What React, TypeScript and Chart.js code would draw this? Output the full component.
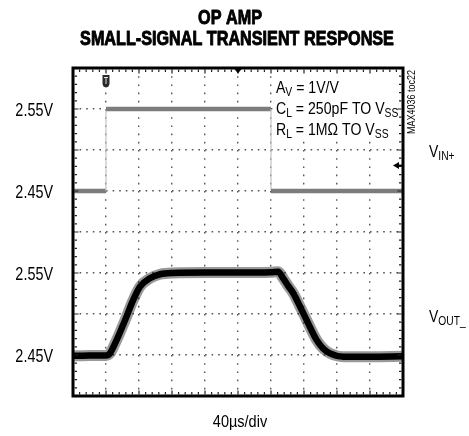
import React, { useEffect, useRef } from 'react';
import { Chart, registerables } from 'chart.js';
Chart.register(...registerables);

// ---- data (time in µs, voltage in V) ----
const xMin = 0;
const xMax = 400;
const xStep = 40; // 40µs/div
const inTime = [0, 40, 40, 240, 240, 400];
const inVolt = [2.45, 2.45, 2.55, 2.55, 2.45, 2.45];
const outTime = [0, 20, 40, 44.8, 50, 54.8, 60, 64.8, 71.2, 81.2, 93.2, 105.6, 121.6, 160, 200, 240, 248.8, 254.8, 261, 267.2, 275.2, 283.2, 295.2, 303.2, 311.6, 327.6, 360, 400];
const outVolt = [2.449, 2.4495, 2.4495, 2.452, 2.462, 2.4725, 2.485, 2.4965, 2.513, 2.5335, 2.5435, 2.5485, 2.55, 2.5505, 2.5505, 2.551, 2.5515, 2.5435, 2.534, 2.525, 2.509, 2.4925, 2.4685, 2.458, 2.452, 2.448, 2.448, 2.4485];
const inRange = [2.2, 2.6];
const outRange = [2.4, 2.8];
const vStep = 0.05; // 50mV/div
const inTickLabels = [2.55, 2.45];
const outTickLabels = [2.55, 2.45];
const triggerTime = 40;
const triggerLevel = 2.481;
const centerTime = 200;
const titleLines = ['OP AMP', 'SMALL-SIGNAL TRANSIENT RESPONSE'];
const xLabel = '40µs/div';
const noteLines = [
  [{ t: 'A' }, { t: 'V', sub: true }, { t: ' = 1V/V' }],
  [{ t: 'C' }, { t: 'L', sub: true }, { t: ' = 250pF TO V' }, { t: 'SS', sub: true }],
  [{ t: 'R' }, { t: 'L', sub: true }, { t: ' = 1MΩ TO V' }, { t: 'SS', sub: true }],
];
const inName = [{ t: 'V' }, { t: 'IN+', sub: true }];
const outName = [{ t: 'V' }, { t: 'OUT_', sub: true }];
const docId = 'MAX4036 toc22';

const FONT = '"Liberation Sans", Arial, sans-serif';

type Run = { t: string; sub?: boolean };

function drawRuns(
  ctx: CanvasRenderingContext2D,
  runs: Run[],
  x: number,
  y: number,
  size: number,
  opt: { bold?: boolean; heavy?: number; align?: 'left' | 'center' | 'right'; sx?: number; subSize?: number; subDy?: number } = {}
) {
  const sx = opt.sx ?? 0.82;
  const subSize = opt.subSize ?? size * 0.72;
  const subDy = opt.subDy ?? size * 0.18;
  const w = opt.bold ? 'bold ' : '';
  const widths = runs.map((r) => {
    ctx.font = `${w}${r.sub ? subSize : size}px ${FONT}`;
    return ctx.measureText(r.t).width * sx;
  });
  const total = widths.reduce((a, b) => a + b, 0);
  let cx = x;
  if (opt.align === 'center') cx = x - total / 2;
  else if (opt.align === 'right') cx = x - total;
  runs.forEach((r, i) => {
    ctx.save();
    ctx.font = `${w}${r.sub ? subSize : size}px ${FONT}`;
    ctx.textAlign = 'left';
    ctx.textBaseline = 'alphabetic';
    ctx.fillStyle = '#000';
    ctx.translate(cx, y + (r.sub ? subDy : 0));
    ctx.scale(sx, 1);
    ctx.fillText(r.t, 0, 0);
    if (opt.heavy) {
      ctx.strokeStyle = '#000';
      ctx.lineWidth = opt.heavy;
      ctx.lineJoin = 'round';
      ctx.strokeText(r.t, 0, 0);
    }
    ctx.restore();
    cx += widths[i];
  });
}

const scopePlugin = {
  id: 'scope',
  beforeDatasetsDraw(chart: any) {
    const { ctx, chartArea: a, scales } = chart;
    const x0 = scales.x.getPixelForValue(242);
    ctx.save();
    ctx.fillStyle = '#fff';
    ctx.fillRect(x0, a.top + 1, a.right - x0 - 1, 71);
    ctx.restore();
  },
  afterDraw(chart: any) {
    const { ctx, chartArea: a, scales } = chart;
    const xs = scales.x;
    const yi = scales.yIn;
    const yo = scales.yOut;
    ctx.save();
    // border
    ctx.strokeStyle = '#000';
    ctx.lineWidth = 3;
    ctx.strokeRect(a.left, a.top, a.right - a.left, a.bottom - a.top);
    // inner minor ticks
    ctx.lineWidth = 1.2;
    ctx.strokeStyle = '#222';
    for (let k = 1; k < 50; k++) {
      const px = xs.getPixelForValue(xMin + (k * xStep) / 5);
      const len = k % 5 === 0 ? 4 : 2.5;
      ctx.beginPath();
      ctx.moveTo(px, a.top + 1.5);
      ctx.lineTo(px, a.top + 1.5 + len);
      ctx.moveTo(px, a.bottom - 1.5);
      ctx.lineTo(px, a.bottom - 1.5 - len);
      ctx.stroke();
    }
    for (let k = 1; k < 40; k++) {
      const py = yo.getPixelForValue(outRange[0] + (k * vStep) / 5);
      const len = k % 5 === 0 ? 4 : 2.5;
      ctx.beginPath();
      ctx.moveTo(a.left + 1.5, py);
      ctx.lineTo(a.left + 1.5 + len, py);
      ctx.moveTo(a.right - 1.5, py);
      ctx.lineTo(a.right - 1.5 - len, py);
      ctx.stroke();
    }
    // trigger position marker
    const tx = xs.getPixelForValue(triggerTime);
    ctx.fillStyle = '#2a2a2a';
    ctx.beginPath();
    ctx.moveTo(tx - 3.5, a.top + 7);
    ctx.lineTo(tx + 3.5, a.top + 7);
    ctx.lineTo(tx + 3.5, a.top + 15);
    ctx.quadraticCurveTo(tx + 3.5, a.top + 19, tx, a.top + 19.5);
    ctx.quadraticCurveTo(tx - 3.5, a.top + 19, tx - 3.5, a.top + 15);
    ctx.closePath();
    ctx.fill();
    ctx.strokeStyle = '#ddd';
    ctx.lineWidth = 1;
    ctx.beginPath();
    ctx.moveTo(tx - 2, a.top + 9.5);
    ctx.lineTo(tx + 2, a.top + 9.5);
    ctx.moveTo(tx, a.top + 9.5);
    ctx.lineTo(tx, a.top + 16);
    ctx.stroke();
    // center marker on top
    const cxp = xs.getPixelForValue(centerTime);
    ctx.fillStyle = '#000';
    ctx.beginPath();
    ctx.moveTo(cxp - 3.5, a.top + 1);
    ctx.lineTo(cxp + 3.5, a.top + 1);
    ctx.lineTo(cxp, a.top + 5.5);
    ctx.closePath();
    ctx.fill();
    // trigger level marker on right
    const ty = yi.getPixelForValue(triggerLevel);
    ctx.beginPath();
    ctx.moveTo(a.right - 10, ty);
    ctx.lineTo(a.right - 4, ty - 3.5);
    ctx.lineTo(a.right - 4, ty + 3.5);
    ctx.closePath();
    ctx.fill();
    ctx.fillRect(a.right - 5, ty - 1, 4, 2);

    // title
    drawRuns(ctx, [{ t: titleLines[0] }], 230, 23.5, 19.5, { bold: true, heavy: 0.9, align: 'center', sx: 0.83 });
    drawRuns(ctx, [{ t: titleLines[1] }], 237, 45, 19.5, { bold: true, heavy: 0.9, align: 'center', sx: 0.83 });
    // y labels
    inTickLabels.forEach((v) => {
      drawRuns(ctx, [{ t: `${v.toFixed(2)}V` }], a.left - 20, yi.getPixelForValue(v) + 7, 18, { align: 'right', sx: 0.8 });
    });
    outTickLabels.forEach((v) => {
      drawRuns(ctx, [{ t: `${v.toFixed(2)}V` }], a.left - 20, yo.getPixelForValue(v) + 7, 18, { align: 'right', sx: 0.8 });
    });
    // x label
    drawRuns(ctx, [{ t: xLabel }], (a.left + a.right) / 2 + 2, a.bottom + 31, 16.5, { align: 'center', sx: 0.88 });
    // notes
    noteLines.forEach((runs, i) => {
      drawRuns(ctx, runs as Run[], xs.getPixelForValue(246), a.top + 24.5 + i * 21, 17, { sx: 0.83, subSize: 12.5, subDy: 3 });
    });
    // channel names
    const midIn = (inTickLabels[0] + inTickLabels[1]) / 2;
    const midOut = (outTickLabels[0] + outTickLabels[1]) / 2;
    drawRuns(ctx, inName, a.right + 26, yi.getPixelForValue(midIn) + 6.5, 17, { sx: 0.82, subSize: 12.5, subDy: 3 });
    drawRuns(ctx, outName, a.right + 26, yo.getPixelForValue(midOut) + 7.5, 17, { sx: 0.82, subSize: 12.5, subDy: 3 });
    // rotated doc id
    ctx.save();
    ctx.translate(a.right + 11.5, a.top + 66);
    ctx.rotate(-Math.PI / 2);
    drawRuns(ctx, [{ t: docId }], 0, 0, 10, { sx: 0.9 });
    ctx.restore();
    ctx.restore();
  },
};

export default function App() {
  const ref = useRef<HTMLCanvasElement>(null);
  useEffect(() => {
    document.body.style.margin = '0';
    const inData = inTime.map((t, i) => ({ x: t, y: inVolt[i] }));
    const outData = outTime.map((t, i) => ({ x: t, y: outVolt[i] }));
    const chart = new Chart(ref.current!, {
      type: 'line',
      data: {
        datasets: [
          {
            data: inData,
            yAxisID: 'yIn',
            borderColor: '#7c7c7c',
            borderWidth: 4.5,
            pointRadius: 0,
            segment: {
              borderColor: (c: any) => (c.p0.parsed.x === c.p1.parsed.x ? '#c4c4c4' : '#7c7c7c'),
              borderWidth: (c: any) => (c.p0.parsed.x === c.p1.parsed.x ? 1.2 : 4.5),
            },
          },
          {
            data: outData,
            yAxisID: 'yOut',
            borderColor: 'rgba(0,0,0,0.4)',
            borderWidth: 11,
            pointRadius: 0,
            cubicInterpolationMode: 'monotone',
          },
          {
            data: outData,
            yAxisID: 'yOut',
            borderColor: '#000',
            borderWidth: 6.5,
            pointRadius: 0,
            cubicInterpolationMode: 'monotone',
          },
        ],
      } as any,
      options: {
        animation: false,
        responsive: false,
        events: [],
        layout: { padding: { left: 73, right: 66, top: 68, bottom: 40 }, autoPadding: false } as any,
        plugins: { legend: { display: false }, tooltip: { enabled: false }, title: { display: false } },
        scales: {
          x: {
            type: 'linear',
            min: xMin,
            max: xMax,
            ticks: { display: false, stepSize: xStep },
            grid: { color: '#555', lineWidth: 1.4, drawTicks: false },
            border: { display: false, dash: [1.6, 6.6] },
          },
          yOut: {
            type: 'linear',
            position: 'left',
            min: outRange[0],
            max: outRange[1],
            ticks: { display: false, stepSize: vStep },
            grid: { color: '#555', lineWidth: 1.4, drawTicks: false },
            border: { display: false, dash: [1.6, 5.0] },
          },
          yIn: {
            type: 'linear',
            position: 'left',
            display: false,
            min: inRange[0],
            max: inRange[1],
          },
        },
      } as any,
      plugins: [scopePlugin],
    });
    return () => chart.destroy();
  }, []);
  return (
    <div style={{ width: 469, height: 436, background: '#fff' }}>
      <canvas ref={ref} width={469} height={436} style={{ display: 'block', width: 469, height: 436 }} />
    </div>
  );
}
